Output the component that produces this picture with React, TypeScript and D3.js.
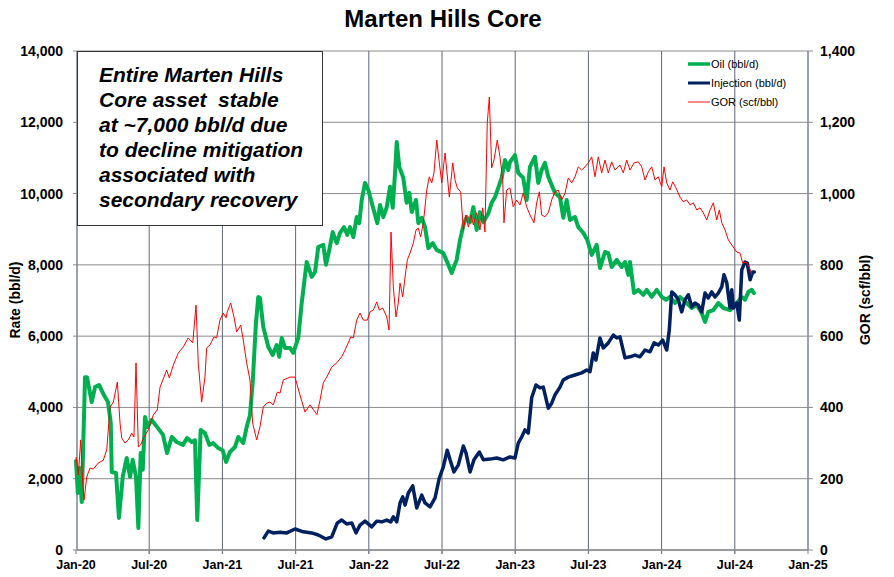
import React from "react";
import * as d3 from "d3";

// Months since Jan-2020
const oilT = [0,0.15,0.3,0.47,0.74,0.9,1.29,1.56,1.89,2.21,2.62,2.85,2.93,3.28,3.52,3.83,4.16,4.43,4.65,4.92,5.11,5.3,5.47,5.66,5.85,6.2,6.72,7.13,7.46,7.85,8.25,8.77,9.1,9.48,9.75,9.94,10.22,10.57,10.93,11.25,11.66,12.02,12.3,12.62,13.03,13.3,13.71,13.99,14.26,14.48,14.75,14.94,15.08,15.35,15.76,16.12,16.45,16.66,16.86,17.13,17.54,17.81,18.22,18.5,18.91,19.32,19.59,19.86,20.27,20.49,20.76,21.04,21.37,21.64,21.97,22.24,22.46,22.73,23.01,23.22,23.42,23.69,23.96,24.24,24.7,24.92,25.19,25.47,25.74,25.96,26.15,26.29,26.5,26.83,27.1,27.32,27.52,27.87,28.06,28.34,28.61,28.88,29.24,29.56,30.11,30.52,30.79,31.2,31.48,31.8,32.02,32.3,32.57,32.84,33.11,33.39,33.8,34.07,34.34,34.61,34.89,35.16,35.43,35.57,35.98,36.25,36.66,36.94,37.21,37.62,37.89,38.17,38.44,38.71,38.99,39.26,39.67,39.94,40.22,40.49,40.9,41.17,41.58,41.91,42.27,42.68,42.95,43.36,43.63,43.91,44.32,44.73,45,45.27,45.41,45.74,46.09,46.5,46.78,47.19,47.6,48.01,48.36,48.69,49.1,49.51,50.06,50.47,50.88,51.29,51.56,51.83,52.24,52.65,53.06,53.61,54.16,54.57,54.84,55.11,55.39,55.57];
const oilV = [2500,1600,2300,1350,4850,4850,4150,4570,4630,4400,4150,3560,2190,2160,900,2050,2580,2050,2530,2050,620,2720,2250,3730,3450,3650,3420,3230,2720,3170,3030,2950,3140,3030,3080,840,3370,3280,2950,3000,2860,2800,2470,2750,2890,3170,3000,3450,3790,4680,6370,7100,7070,6260,5700,5470,5750,5420,5950,5670,5670,5530,5950,6930,8080,7660,7800,8500,8560,8000,8420,8920,8610,8900,9060,8840,9060,8780,9340,9170,9820,10300,10100,9740,9170,9680,9340,9620,10190,9600,10580,11450,10750,10440,9740,10020,9480,9820,9170,9320,9060,8470,8610,8420,8330,8000,7770,8140,8700,9170,9340,9200,9620,8980,9480,9200,9450,9740,9900,10160,10440,10940,10660,10880,11080,10580,10440,9820,10750,11030,10300,10660,10860,10470,10240,10020,9900,9320,9820,9260,9340,9060,8900,8700,8280,8560,7910,8360,8330,7940,8140,7940,8080,7720,8080,7210,7300,7160,7300,7100,7300,7100,7020,7100,6930,7100,6930,6790,6870,6650,6400,6680,6730,6930,6790,6730,6930,7100,7020,7240,7300,7210];

const injT = [15.41,15.76,16.17,16.72,17.27,17.95,18.63,19.32,19.86,20.49,20.96,21.42,21.78,22.19,22.6,22.95,23.28,23.69,24.24,24.65,25.06,25.47,25.8,26.01,26.29,26.56,26.78,26.97,27.24,27.6,27.93,28.34,28.61,29.02,29.43,29.78,30.11,30.43,30.66,30.98,31.34,31.75,31.97,32.3,32.62,33.06,33.39,33.93,34.48,35.02,35.57,35.98,36.25,36.53,36.8,37.07,37.35,37.7,38.03,38.3,38.71,38.99,39.26,39.67,39.94,40.35,40.9,41.45,41.86,42.13,42.4,42.62,42.95,43.22,43.63,44.04,44.32,44.59,45,45.41,45.82,46.23,46.64,47.05,47.38,47.73,48.09,48.42,48.63,48.83,49.1,49.37,49.65,49.92,50.19,50.47,50.74,51.01,51.29,51.56,51.83,52.11,52.38,52.65,52.93,53.11,53.34,53.61,53.75,53.88,54.16,54.37,54.57,54.84,55.02,55.25,55.47,55.6];
const injV = [340,530,480,500,480,590,510,480,420,310,370,760,840,730,760,480,700,810,650,810,790,840,790,930,790,1320,1490,1260,1600,1800,1180,1540,1320,1210,1460,2020,2330,2800,2530,2190,2390,2920,2720,2190,2530,2750,2530,2550,2580,2530,2610,2580,3000,3170,3370,3280,4270,4630,4550,4570,3980,4120,4350,4570,4770,4850,4910,4970,5050,5000,5530,5330,5950,5670,5810,6030,5950,5980,5390,5420,5470,5420,5610,5560,5810,5750,5890,5610,6170,7240,7160,7020,6680,7020,7160,6820,6930,6870,6680,7210,7070,7240,7100,7210,7380,7720,7500,6790,7300,6790,6930,6450,7860,8080,8050,7580,7800,7800];

const gorT = [0,0.19,0.39,0.55,0.66,0.88,1.15,1.42,1.83,2.24,2.52,2.79,3.06,3.39,3.61,3.75,4.02,4.29,4.57,4.75,4.92,5.11,5.3,5.57,5.93,6.34,6.66,6.89,7.21,7.43,7.65,7.98,8.39,8.8,9.2,9.57,9.84,10.02,10.3,10.57,10.71,10.98,11.31,11.53,11.8,12.07,12.3,12.4,12.68,12.95,13.17,13.5,13.71,13.99,14.26,14.48,14.81,15.08,15.35,15.63,15.9,16.17,16.5,16.72,16.99,17.54,17.95,18.36,18.77,19.18,19.43,19.75,20.0,20.27,20.55,20.96,21.37,21.78,22.05,22.32,22.52,22.73,23.01,23.28,23.55,23.88,24.1,24.37,24.65,24.86,25.14,25.47,25.66,25.82,26.01,26.23,26.42,26.56,26.78,26.97,27.16,27.38,27.65,27.87,28.06,28.25,28.47,28.75,28.96,29.16,29.34,29.57,29.78,29.98,30.25,30.39,30.6,30.88,31.07,31.25,31.53,31.75,31.97,32.16,32.38,32.57,32.84,33.11,33.34,33.52,33.71,33.88,34.07,34.26,34.53,34.75,34.98,35.08,35.3,35.57,35.84,36.12,36.39,36.66,36.94,37.21,37.54,37.76,37.98,38.17,38.44,38.71,38.99,39.26,39.53,39.81,40.08,40.35,40.63,40.9,41.17,41.45,41.72,41.99,42.27,42.54,42.81,43.09,43.36,43.63,43.91,44.18,44.59,44.86,45.14,45.41,45.74,46.09,46.37,46.64,46.91,47.19,47.46,47.73,48.01,48.2,48.42,48.69,48.91,49.18,49.51,49.78,50.06,50.33,50.6,50.88,51.15,51.42,51.7,51.97,52.24,52.52,52.73,52.93,53.2,53.47,53.75,54.16,54.43,54.65,54.92,55.19,55.39];
const gorV = [261,210,309,188,140,205,230,227,244,252,281,401,415,471,356,314,300,309,328,317,525,289,295,317,337,379,393,457,485,505,483,519,553,570,595,581,687,525,415,485,567,575,598,595,645,665,651,668,693,654,612,631,589,525,477,356,309,345,401,412,415,407,443,440,477,485,485,435,387,407,395,380,420,469,485,513,525,542,561,581,598,595,645,665,645,645,668,673,696,673,679,654,617,892,738,654,693,749,710,766,814,833,861,898,903,878,918,1010,1047,1030,1058,1150,1086,1030,1114,1066,990,1086,1038,1016,1005,898,940,906,940,912,946,898,960,892,1198,1271,1072,1094,1150,1103,1038,918,1010,1016,963,982,968,1002,963,940,918,974,1005,940,935,946,982,1005,1010,982,1000,1044,1030,1047,1075,1066,1075,1086,1103,1047,1103,1058,1094,1058,1089,1066,1080,1058,1094,1066,1086,1089,1075,1038,1061,1075,1038,1047,1019,1075,1030,1010,1033,1016,990,977,982,968,974,954,960,946,926,954,974,926,954,918,898,870,856,836,833,805,808,794,772];

const xTickMonths = [0,6,12,18,24,30,36,42,48,54,60];
const xTickLabels = ["Jan-20","Jul-20","Jan-21","Jul-21","Jan-22","Jul-22","Jan-23","Jul-23","Jan-24","Jul-24","Jan-25"];
const yTicks = [0,2000,4000,6000,8000,10000,12000,14000];
const y2Ticks = [0,200,400,600,800,1000,1200,1400];
const noteLines = ["Entire Marten Hills","Core asset  stable","at ~7,000 bbl/d due","to decline mitigation","associated with","secondary recovery"];
const legendItems = [
  { label: "Oil (bbl/d)", color: "#00b050", width: 3.5 },
  { label: "Injection (bbl/d)", color: "#002060", width: 3 },
  { label: "GOR (scf/bbl)", color: "#ff6060", width: 1.5 },
];

const FONT = "'Liberation Sans', Arial, sans-serif";

export default function App() {
  const W = 894, H = 577;
  const L = 77, R = 808, T = 51, B = 550;
  const x = d3.scaleLinear().domain([0, 60]).range([L - 1, R]);
  const y = d3.scaleLinear().domain([0, 14000]).range([B, T]);
  const y2 = d3.scaleLinear().domain([0, 1400]).range([B, T]);

  const mk = (ts: number[], vs: number[], ys: d3.ScaleLinear<number, number>) =>
    d3.line<number>().x((_, i) => x(ts[i])).y((v) => ys(v))(vs) || "";

  const oilPath = mk(oilT, oilV, y);
  const injPath = mk(injT, injV, y);
  const gorPath = mk(gorT, gorV, y2);

  return (
    <svg width={W} height={H} style={{ position: "absolute", left: 0, top: 0, background: "#fff" }} fontFamily={FONT}>
      <rect x={0} y={0} width={W} height={H} fill="#fff" />
      <text x={443} y={27} textAnchor="middle" fontSize={24} fontWeight="bold" fill="#000">Marten Hills Core</text>

      {/* horizontal gridlines */}
      {yTicks.map((t) => (
        <line key={"hg" + t} x1={L} x2={R} y1={y(t)} y2={y(t)} stroke="#8c8c8c" strokeWidth={1} />
      ))}
      {/* vertical gridlines */}
      {xTickMonths.slice(1, -1).map((m) => (
        <line key={"vg" + m} x1={x(m)} x2={x(m)} y1={T} y2={B + 4} stroke="#5d6679" strokeWidth={1} />
      ))}

      {/* axes */}
      <line x1={L} x2={L} y1={T} y2={B} stroke="#7b8294" strokeWidth={1.5} />
      <line x1={R} x2={R} y1={T} y2={B} stroke="#7b8294" strokeWidth={1.5} />
      <line x1={L} x2={R} y1={B} y2={B} stroke="#8c8c8c" strokeWidth={1.5} />
      {yTicks.map((t) => (
        <line key={"lt" + t} x1={L - 4} x2={L} y1={y(t)} y2={y(t)} stroke="#8c8c8c" />
      ))}
      {y2Ticks.map((t) => (
        <line key={"rt" + t} x1={R} x2={R + 5} y1={y2(t)} y2={y2(t)} stroke="#8c8c8c" />
      ))}
      {xTickMonths.map((m) => (
        <line key={"xt" + m} x1={x(m)} x2={x(m)} y1={B} y2={B + 4} stroke="#7b8294" />
      ))}

      {/* tick labels */}
      {yTicks.map((t) => (
        <text key={"yl" + t} x={63} y={y(t) + 5} textAnchor="end" fontSize={14} fontWeight="bold">{d3.format(",")(t)}</text>
      ))}
      {y2Ticks.map((t) => (
        <text key={"y2l" + t} x={820} y={y2(t) + 5} textAnchor="start" fontSize={14} fontWeight="bold">{d3.format(",")(t)}</text>
      ))}
      {xTickMonths.map((m, i) => (
        <text key={"xl" + m} x={x(m)} y={569} textAnchor="middle" fontSize={12.5} fontWeight="bold">{xTickLabels[i]}</text>
      ))}

      <text transform={`translate(20,300) rotate(-90)`} textAnchor="middle" fontSize={14} fontWeight="bold">Rate (bbl/d)</text>
      <text transform={`translate(870,300) rotate(-90)`} textAnchor="middle" fontSize={14} fontWeight="bold">GOR (scf/bbl)</text>

      {/* note box */}
      <rect x={77.5} y={51.5} width={245} height={174} fill="#fff" stroke="#333" strokeWidth={1} />
      {noteLines.map((s, i) => (
        <text key={"n" + i} x={99} y={82 + i * 25} fontSize={21} fontWeight="bold" fontStyle="italic" style={{ whiteSpace: "pre" }}>{s}</text>
      ))}

      {/* series */}
      <path d={oilPath} fill="none" stroke="#00b050" strokeWidth={4} strokeLinejoin="round" strokeLinecap="round" />
      <path d={injPath} fill="none" stroke="#002060" strokeWidth={3.5} strokeLinejoin="round" strokeLinecap="round" />
      <path d={gorPath} fill="none" stroke="#ff0000" strokeWidth={1} strokeLinejoin="round" />

      {/* legend */}
      {legendItems.map((it, i) => (
        <g key={"lg" + i}>
          <line x1={688} x2={710} y1={64 + i * 19} y2={64 + i * 19} stroke={it.color} strokeWidth={it.width} />
          <text x={711} y={68 + i * 19} fontSize={11} fill="#000">{it.label}</text>
        </g>
      ))}
    </svg>
  );
}
